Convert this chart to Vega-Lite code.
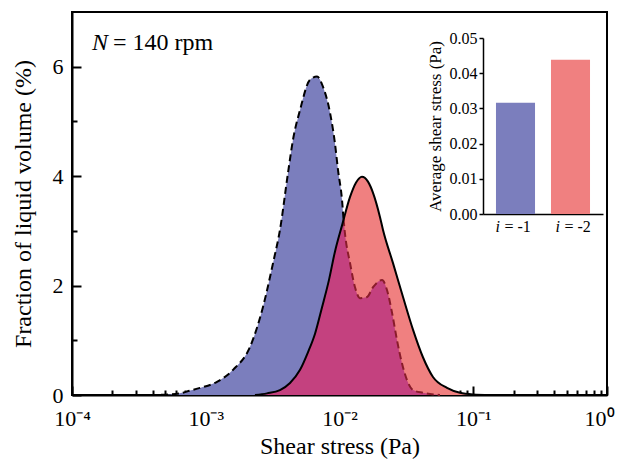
{
  "$schema": "https://vega.github.io/schema/vega-lite/v6.json",
  "width": 535,
  "height": 383,
  "autosize": {"type": "none"},
  "padding": {"left": 72, "top": 12, "right": 10, "bottom": 66},
  "background": "white",
  "config": {
    "view": {"stroke": "black", "strokeWidth": 2},
    "font": "Liberation Serif",
    "axis": {"labelFont": "Liberation Serif", "titleFont": "Liberation Serif", "labelColor": "black", "titleColor": "black", "domainColor": "black", "tickColor": "black", "domainWidth": 1.5, "tickWidth": 1.5, "grid": false, "titleFontWeight": "normal", "labelFontWeight": "normal"},
    "text": {"font": "Liberation Serif", "color": "black"}
  },
  "datasets": {
    "blue": [
      {"x": 0.000383, "y": 0, "seg": "a"},
      {"x": 0.000541, "y": 0.01, "seg": "a"},
      {"x": 0.000641, "y": 0.03, "seg": "a"},
      {"x": 0.000762, "y": 0.08, "seg": "a"},
      {"x": 0.000906, "y": 0.13, "seg": "a"},
      {"x": 0.001213, "y": 0.24, "seg": "a"},
      {"x": 0.0016, "y": 0.46, "seg": "a"},
      {"x": 0.002143, "y": 0.88, "seg": "a"},
      {"x": 0.002679, "y": 1.61, "seg": "a"},
      {"x": 0.003184, "y": 2.41, "seg": "a"},
      {"x": 0.003589, "y": 3.02, "seg": "a"},
      {"x": 0.004121, "y": 4.06, "seg": "a"},
      {"x": 0.004487, "y": 4.66, "seg": "a"},
      {"x": 0.00507, "y": 5.21, "seg": "a"},
      {"x": 0.006012, "y": 5.76, "seg": "a"},
      {"x": 0.006792, "y": 5.82, "seg": "a"},
      {"x": 0.007534, "y": 5.63, "seg": "a"},
      {"x": 0.008492, "y": 5.16, "seg": "a"},
      {"x": 0.009247, "y": 4.6, "seg": "a"},
      {"x": 0.00975, "y": 4.11, "seg": "a"},
      {"x": 0.010447, "y": 3.56, "seg": "a"},
      {"x": 0.010715, "y": 3.22, "seg": "a"},
      {"x": 0.010715, "y": 3.22, "seg": "b", "dup": true},
      {"x": 0.01099, "y": 2.95, "seg": "b"},
      {"x": 0.01199, "y": 2.41, "seg": "b"},
      {"x": 0.01306, "y": 1.97, "seg": "b"},
      {"x": 0.01422, "y": 1.77, "seg": "b"},
      {"x": 0.01607, "y": 1.79, "seg": "b"},
      {"x": 0.01782, "y": 1.97, "seg": "b"},
      {"x": 0.0208, "y": 2.1, "seg": "b"},
      {"x": 0.02265, "y": 1.92, "seg": "b"},
      {"x": 0.02472, "y": 1.5, "seg": "b"},
      {"x": 0.02692, "y": 1.0, "seg": "b"},
      {"x": 0.02931, "y": 0.58, "seg": "b"},
      {"x": 0.03199, "y": 0.27, "seg": "b"},
      {"x": 0.03548, "y": 0.09, "seg": "b"},
      {"x": 0.04207, "y": 0.04, "seg": "b"},
      {"x": 0.05636, "y": 0.0, "seg": "b"}
    ],
    "red": [
      {"x": 0.002333, "y": 0},
      {"x": 0.002871, "y": 0.03},
      {"x": 0.003589, "y": 0.09},
      {"x": 0.004266, "y": 0.22},
      {"x": 0.00507, "y": 0.46},
      {"x": 0.005808, "y": 0.78},
      {"x": 0.006561, "y": 1.12},
      {"x": 0.007396, "y": 1.6},
      {"x": 0.008337, "y": 2.1},
      {"x": 0.009247, "y": 2.62},
      {"x": 0.010447, "y": 3.1},
      {"x": 0.01199, "y": 3.62},
      {"x": 0.01327, "y": 3.88},
      {"x": 0.01472, "y": 3.99},
      {"x": 0.01633, "y": 3.9},
      {"x": 0.01778, "y": 3.7},
      {"x": 0.02009, "y": 3.25},
      {"x": 0.02113, "y": 3.02},
      {"x": 0.02512, "y": 2.41},
      {"x": 0.02985, "y": 1.79},
      {"x": 0.03548, "y": 1.19},
      {"x": 0.04207, "y": 0.69},
      {"x": 0.05, "y": 0.33},
      {"x": 0.06363, "y": 0.13},
      {"x": 0.07962, "y": 0.04},
      {"x": 0.0995, "y": 0.01},
      {"x": 0.1334, "y": 0}
    ],
    "overlap": [
      {"x": 0.002333, "y": 0},
      {"x": 0.002871, "y": 0.03},
      {"x": 0.003589, "y": 0.09},
      {"x": 0.004266, "y": 0.22},
      {"x": 0.00507, "y": 0.46},
      {"x": 0.005808, "y": 0.78},
      {"x": 0.006561, "y": 1.12},
      {"x": 0.007396, "y": 1.6},
      {"x": 0.008337, "y": 2.1},
      {"x": 0.009247, "y": 2.62},
      {"x": 0.010447, "y": 3.1},
      {"x": 0.010715, "y": 3.22},
      {"x": 0.01099, "y": 2.95},
      {"x": 0.01199, "y": 2.41},
      {"x": 0.01306, "y": 1.97},
      {"x": 0.01422, "y": 1.77},
      {"x": 0.01607, "y": 1.79},
      {"x": 0.01782, "y": 1.97},
      {"x": 0.0208, "y": 2.1},
      {"x": 0.02265, "y": 1.92},
      {"x": 0.02472, "y": 1.5},
      {"x": 0.02692, "y": 1.0},
      {"x": 0.02931, "y": 0.58},
      {"x": 0.03199, "y": 0.27},
      {"x": 0.03548, "y": 0.09},
      {"x": 0.04207, "y": 0.04},
      {"x": 0.05636, "y": 0.0}
    ],
    "bars": [
      {"case": "i = -1", "rest": "= -1", "value": 0.0316},
      {"case": "i = -2", "rest": "= -2", "value": 0.0438}
    ]
  },
  "layer": [
    {
      "data": {"name": "blue"},
      "transform": [{"filter": "datum.dup !== true"}],
      "mark": {"type": "area", "color": "#7B7EBD", "interpolate": "monotone"},
      "encoding": {
        "x": {"field": "x", "type": "quantitative", "scale": {"type": "log", "domain": [0.0001, 1], "nice": false},
          "axis": {"orient": "bottom", "values": [0.0001, 0.001, 0.01, 0.1, 1], "ticks": false, "domainWidth": 2, "labelFontSize": 22, "labelPadding": 13, "labelFlush": false, "labelOverlap": false,
            "labelOffset": {"condition": {"test": "datum.value > 0.5", "value": -8}, "value": 0},
            "labelExpr": "datum.value < 0.0005 ? '10⁻⁴' : datum.value < 0.005 ? '10⁻³' : datum.value < 0.05 ? '10⁻²' : datum.value < 0.5 ? '10⁻¹' : '10⁰'",
            "title": "Shear stress (Pa)", "titleFontSize": 24, "titlePadding": 5}},
        "y": {"field": "y", "type": "quantitative", "scale": {"domain": [0, 7], "nice": false},
          "axis": {"orient": "left", "values": [0, 2, 4, 6], "ticks": false, "domainWidth": 2, "labelFontSize": 22, "labelPadding": 9, "title": "Fraction of liquid volume (%)", "titleFontSize": 24, "titlePadding": 17}}
      }
    },
    {
      "data": {"name": "red"},
      "mark": {"type": "area", "color": "#F08080", "interpolate": "monotone"},
      "encoding": {
        "x": {"field": "x", "type": "quantitative", "scale": {"type": "log", "domain": [0.0001, 1], "nice": false},
          "axis": {"orient": "bottom", "values": [0.0001, 0.001, 0.01, 0.1, 1], "ticks": true, "tickSize": -9, "tickColor": "#000000", "tickWidth": 2, "labels": false, "domain": false, "title": null}},
        "y": {"field": "y", "type": "quantitative", "scale": {"domain": [0, 7], "nice": false},
          "axis": {"orient": "left", "values": [0, 2, 4, 6], "ticks": true, "tickSize": -9, "tickColor": "#000000", "tickWidth": 2, "labels": false, "domain": false, "title": null}}
      }
    },
    {
      "data": {"name": "overlap"},
      "mark": {"type": "area", "color": "#C4417F", "interpolate": "monotone"},
      "encoding": {
        "x": {"field": "x", "type": "quantitative", "scale": {"type": "log", "domain": [0.0001, 1], "nice": false},
          "axis": {"orient": "top", "offset": -383, "values": [0.0002, 0.0003, 0.0004, 0.0005, 0.0006, 0.0007, 0.0008, 0.0009, 0.002, 0.003, 0.004, 0.005, 0.006, 0.007, 0.008, 0.009, 0.02, 0.03, 0.04, 0.05, 0.06, 0.07, 0.08, 0.09, 0.2, 0.3, 0.4, 0.5, 0.6, 0.7, 0.8, 0.9], "ticks": true, "tickSize": 5, "tickColor": "#000000", "tickWidth": 2, "labels": false, "domain": false, "title": null}},
        "y": {"field": "y", "type": "quantitative", "scale": {"domain": [0, 7], "nice": false},
          "axis": {"orient": "right", "offset": -535, "values": [1, 3, 5], "ticks": true, "tickSize": 5, "tickColor": "#000000", "tickWidth": 2, "labels": false, "domain": false, "title": null}}
      }
    },
    {
      "data": {"name": "blue"},
      "mark": {"type": "line", "strokeWidth": 2, "strokeDash": [7, 4], "interpolate": "monotone"},
      "encoding": {
        "x": {"field": "x", "type": "quantitative", "scale": {"type": "log", "domain": [0.0001, 1], "nice": false}, "axis": null},
        "y": {"field": "y", "type": "quantitative", "scale": {"domain": [0, 7], "nice": false}, "axis": null},
        "color": {"field": "seg", "type": "nominal", "scale": {"domain": ["a", "b"], "range": ["#000000", "#8A1C2A"]}, "legend": null}
      }
    },
    {
      "data": {"name": "red"},
      "mark": {"type": "line", "strokeWidth": 2, "color": "black", "interpolate": "monotone"},
      "encoding": {
        "x": {"field": "x", "type": "quantitative", "scale": {"type": "log", "domain": [0.0001, 1], "nice": false}, "axis": null},
        "y": {"field": "y", "type": "quantitative", "scale": {"domain": [0, 7], "nice": false}, "axis": null}
      }
    },
    {
      "data": {"values": [{}]},
      "mark": {"type": "text", "text": "N", "fontStyle": "italic", "fontSize": 24, "align": "left", "baseline": "alphabetic"},
      "encoding": {
        "x": {"datum": 0.000141, "type": "quantitative", "scale": {"type": "log", "domain": [0.0001, 1], "nice": false}, "axis": null},
        "y": {"datum": 6.31, "type": "quantitative", "scale": {"domain": [0, 7], "nice": false}, "axis": null}
      }
    },
    {
      "data": {"values": [{}]},
      "mark": {"type": "text", "text": "= 140 rpm", "fontSize": 24, "align": "left", "baseline": "alphabetic", "dx": 21},
      "encoding": {
        "x": {"datum": 0.000141, "type": "quantitative", "scale": {"type": "log", "domain": [0.0001, 1], "nice": false}, "axis": null},
        "y": {"datum": 6.31, "type": "quantitative", "scale": {"domain": [0, 7], "nice": false}, "axis": null}
      }
    },
    {
      "data": {"name": "bars"},
      "mark": {"type": "bar"},
      "encoding": {
        "x": {"field": "case", "type": "nominal", "scale": {"domain": ["i = -1", "i = -2"], "range": [411, 531], "paddingInner": 0.29, "paddingOuter": 0.236},
          "axis": {"orient": "bottom", "offset": -181, "labels": false, "ticks": false, "title": null, "domain": true}},
        "y": {"field": "value", "type": "quantitative", "scale": {"domain": [0, 0.05], "range": [202, 26], "nice": false},
          "axis": {"orient": "left", "offset": -411, "values": [0, 0.01, 0.02, 0.03, 0.04, 0.05], "format": ".2f", "tickSize": 4, "labelFontSize": 16, "labelPadding": 2, "title": "Average shear stress (Pa)", "titleFontSize": 17, "titlePadding": 5}},
        "color": {"field": "case", "type": "nominal", "scale": {"domain": ["i = -1", "i = -2"], "range": ["#7B7EBD", "#F08080"]}, "legend": null}
      }
    },
    {
      "data": {"name": "bars"},
      "mark": {"type": "text", "text": "i", "fontStyle": "italic", "fontSize": 16, "align": "left", "baseline": "alphabetic", "dx": -17.5, "dy": 18},
      "encoding": {
        "x": {"field": "case", "type": "nominal", "scale": {"domain": ["i = -1", "i = -2"], "range": [411, 531], "paddingInner": 0.29, "paddingOuter": 0.236}, "axis": null},
        "y": {"datum": 0, "type": "quantitative", "scale": {"domain": [0, 0.05], "range": [202, 26], "nice": false}, "axis": null}
      }
    },
    {
      "data": {"name": "bars"},
      "mark": {"type": "text", "fontSize": 16, "align": "left", "baseline": "alphabetic", "dx": -8.5, "dy": 18},
      "encoding": {
        "x": {"field": "case", "type": "nominal", "scale": {"domain": ["i = -1", "i = -2"], "range": [411, 531], "paddingInner": 0.29, "paddingOuter": 0.236}, "axis": null},
        "y": {"datum": 0, "type": "quantitative", "scale": {"domain": [0, 0.05], "range": [202, 26], "nice": false}, "axis": null},
        "text": {"field": "rest"}
      }
    }
  ],
  "resolve": {"scale": {"x": "independent", "y": "independent", "color": "independent"}}
}
